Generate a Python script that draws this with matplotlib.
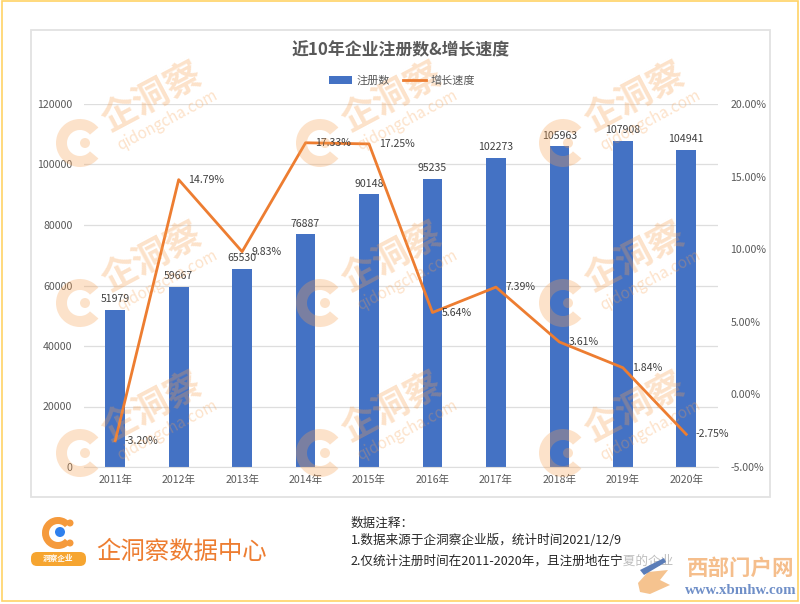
import matplotlib
matplotlib.use("Agg")
import matplotlib.pyplot as plt
from matplotlib.patches import Rectangle, Wedge, Circle, FancyBboxPatch, Polygon

plt.rcParams['font.family'] = ['Noto Sans CJK SC', 'DejaVu Sans']

years = ['2011年','2012年','2013年','2014年','2015年','2016年','2017年','2018年','2019年','2020年']
counts = [51979,59667,65530,76887,90148,95235,102273,105963,107908,104941]
growth = [-3.20,14.79,9.83,17.33,17.25,5.64,7.39,3.61,1.84,-2.75]
left_ticks = [0,20000,40000,60000,80000,100000,120000]
right_ticks = [-5,0,5,10,15,20]
title = '近10年企业注册数&增长速度'
notes = ['数据注释：','1.数据来源于企洞察企业版，统计时间2021/12/9','2.仅统计注册时间在2011-2020年，且注册地在宁夏的企业']

W, H = 800, 604
FS = 7.6
fig = plt.figure(figsize=(8, 6.04), dpi=100, facecolor='white')
bg = fig.add_axes([0, 0, 1, 1], zorder=0)
bg.set_xlim(0, W); bg.set_ylim(H, 0); bg.axis('off')
bg.add_patch(Rectangle((2, 1), 795.5, 600, fill=False, ec='#FFD366', lw=1.2))
bg.add_patch(Rectangle((31, 30), 739, 467, fc='white', ec='#E2E2E2', lw=1.3))

ax = fig.add_axes([83.5/W, 1-467/H, 634.5/W, 363/H], zorder=2)
ax.patch.set_alpha(0)
x = list(range(len(years)))
ax.bar(x, counts, width=0.31, color='#4472C4', label='注册数', zorder=2)
ax.set_xlim(-0.5, 9.5); ax.set_ylim(0, 120000)
ax.set_yticks(left_ticks); ax.set_xticks(x, years)
ax.grid(axis='y', color='#DEDEDE', lw=0.9, zorder=0)
ax.set_axisbelow(True)
ax.tick_params(length=0, labelsize=FS, labelcolor='#595959')
ax.tick_params(axis='x', pad=6); ax.tick_params(axis='y', pad=8)
for s in ax.spines.values():
    s.set_visible(False)
ax.spines['bottom'].set_visible(True); ax.spines['bottom'].set_color('#DEDEDE')
for i, v in enumerate(counts):
    ax.annotate(str(v), (i, v), xytext=(0, 4), textcoords='offset points',
                ha='center', va='bottom', fontsize=FS, color='#404040', zorder=6)

ax2 = ax.twinx()
ax2.patch.set_alpha(0)
ax2.plot(x, growth, color='#ED7D31', lw=2.0, label='增长速度', zorder=5)
ax2.set_ylim(-5, 20); ax2.set_yticks(right_ticks, [f'{t:.2f}%' for t in right_ticks])
ax2.tick_params(length=0, labelsize=FS, labelcolor='#595959', pad=9)
for s in ax2.spines.values():
    s.set_visible(False)
for i, v in enumerate(growth):
    ax2.annotate(f'{v:.2f}%', (i, v), xytext=(7, 0), textcoords='offset points',
                 ha='left', va='center', fontsize=FS, color='#404040', zorder=6)

fig.text(401/W, 1-50/H, title, ha='center', va='center', fontsize=12.2, fontweight='bold', color='#595959', zorder=5)
h1, l1 = ax.get_legend_handles_labels(); h2, l2 = ax2.get_legend_handles_labels()
fig.legend(h1+h2, l1+l2, loc='center', bbox_to_anchor=(402/W, 1-81/H), ncol=2, frameon=False,
           fontsize=8, labelcolor='#595959', handlelength=2.0, handletextpad=0.4, columnspacing=1.25)

# watermarks, drawn over the chart
wm = fig.add_axes([0, 0, 1, 1], zorder=3)
wm.patch.set_alpha(0)
wm.set_xlim(0, W); wm.set_ylim(H, 0); wm.axis('off')
WC = '#F8A050'
for cx in (80, 320, 563):
    for cy in (143, 303, 453):
        wm.add_patch(Wedge((cx, cy), 24, 40, 320, width=11, fc=WC, ec='none', alpha=0.3))
        wm.add_patch(Circle((cx+5, cy), 5, fc=WC, ec='none', alpha=0.3))
        wm.text(cx+72, cy-45, '企洞察', rotation=28, fontsize=26, fontweight='bold', color=WC, alpha=0.3,
                ha='center', va='center', rotation_mode='anchor')
        wm.text(cx+87, cy-23, 'qidongcha.com', rotation=28, fontsize=11, color=WC, alpha=0.3,
                ha='center', va='center', rotation_mode='anchor')

# footer
bg.add_patch(Wedge((58, 533), 16, 40, 320, width=7, fc='#F59A3C', ec='none'))
bg.add_patch(Circle((70, 523), 3.5, fc='#F59A3C', ec='none'))
bg.add_patch(Circle((70, 543), 3.5, fc='#F59A3C', ec='none'))
bg.add_patch(Circle((60, 532), 5, fc='#2F80ED', ec='none'))
bg.add_patch(FancyBboxPatch((31, 552), 55, 14, boxstyle='round,pad=0,rounding_size=6', fc='#F6A530', ec='none'))
bg.text(58, 559, '洞察企业', fontsize=5.5, color='white', ha='center', va='center', fontweight='bold', style='italic')
bg.text(182, 552, '企洞察数据中心', fontsize=17.6, color='#ED7D31', ha='center', va='center', fontweight='light')
for t, y in zip(notes, [523, 541, 561]):
    bg.text(351, y, t, fontsize=9.05, color='#262626', ha='left', va='center', zorder=3, fontweight='light')

# site stamp
wm.add_patch(Rectangle((622, 552), 174, 48, fc='white', ec='none', alpha=0.7, zorder=4))
wm.text(741, 568, '西部门户网', fontsize=15.5, fontweight='bold', color='#F5BE8C', ha='center', va='center', zorder=5)
wm.text(741, 590, 'www.xbmhw.com', fontsize=10.7, family=['Liberation Serif'], fontweight='bold', color='#6F8FC8',
        ha='center', va='center', zorder=5)
wm.add_patch(Polygon([(638, 583), (648, 572), (668, 570), (660, 580), (670, 585), (650, 594), (640, 592)],
                     closed=True, fc='#F5C38F', ec='none', zorder=5))
wm.add_patch(Polygon([(640, 570), (664, 558), (666, 562), (644, 575)], closed=True, fc='#5B7DB8', ec='none', zorder=6))

fig.savefig('out.png', dpi=100)
